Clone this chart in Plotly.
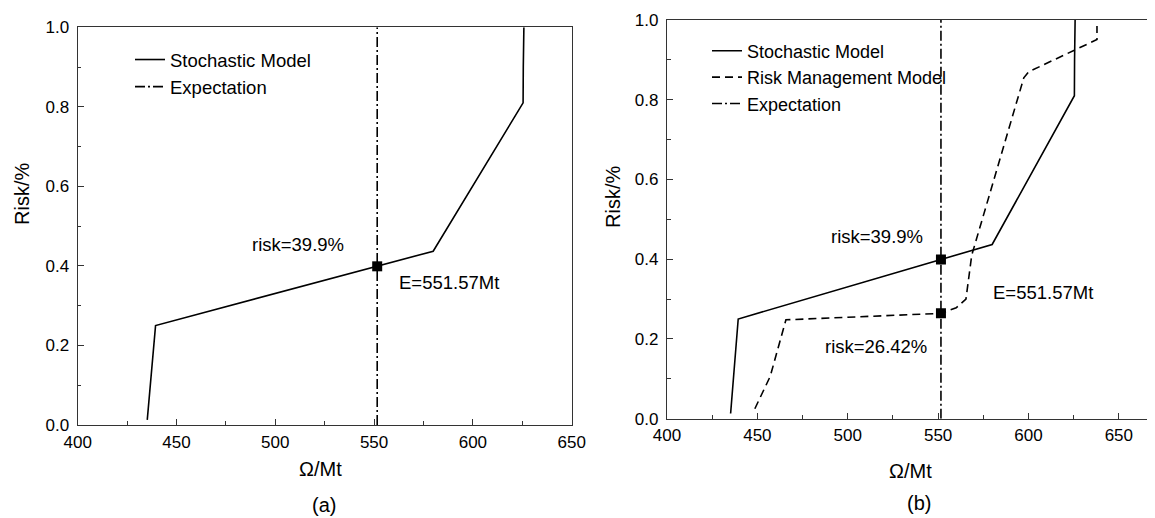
import plotly.graph_objects as go

W, H = 1155, 518
OFF = 8  # page body offset of the rendered figure, in px

# ---- data ----
stoch_x = [435.2, 439.4, 579.9, 625.4, 625.5, 625.8]
stoch_y = [0.013, 0.25, 0.437, 0.81, 0.90, 1.0]

rmm_x = [448.6, 457.1, 465.8, 551.57, 560.0, 565.4, 568.6, 597.4, 600.1, 637.9, 637.9]
rmm_y = [0.025, 0.106, 0.248, 0.2642, 0.278, 0.30, 0.41, 0.855, 0.87, 0.951, 0.985]

E_value = 551.57
exp_y = [0.0, 1.0]
risk_stoch = 0.399
risk_rmm = 0.2642

FONT = "Arial, Liberation Sans, sans-serif"


def fx(px):
    return (px - OFF) / W


def fy(py):
    return 1 - (py - OFF) / H


fig = go.Figure()

line_w = 1.6
dash_rmm = "8px,5px"
dash_exp = "10px,3px,2px,3px"

# panel (a)
fig.add_trace(go.Scatter(x=stoch_x, y=stoch_y, mode="lines", name="Stochastic Model",
                         line=dict(color="black", width=line_w), xaxis="x", yaxis="y",
                         legend="legend"))
fig.add_trace(go.Scatter(x=[E_value, E_value], y=exp_y, mode="lines", name="Expectation",
                         line=dict(color="black", width=line_w, dash=dash_exp), xaxis="x", yaxis="y",
                         legend="legend"))
fig.add_trace(go.Scatter(x=[E_value], y=[risk_stoch], mode="markers", showlegend=False,
                         marker=dict(symbol="square", size=10, color="black"), xaxis="x", yaxis="y"))

# panel (b)
fig.add_trace(go.Scatter(x=stoch_x, y=stoch_y, mode="lines", name="Stochastic Model",
                         line=dict(color="black", width=line_w), xaxis="x2", yaxis="y2",
                         legend="legend2"))
fig.add_trace(go.Scatter(x=rmm_x, y=rmm_y, mode="lines", name="Risk Management Model",
                         line=dict(color="black", width=line_w, dash=dash_rmm), xaxis="x2", yaxis="y2",
                         legend="legend2"))
fig.add_trace(go.Scatter(x=[E_value, E_value], y=exp_y, mode="lines", name="Expectation",
                         line=dict(color="black", width=line_w, dash=dash_exp), xaxis="x2", yaxis="y2",
                         legend="legend2"))
fig.add_trace(go.Scatter(x=[E_value, E_value], y=[risk_stoch, risk_rmm], mode="markers", showlegend=False,
                         marker=dict(symbol="square", size=10, color="black"), xaxis="x2", yaxis="y2"))

axis_common = dict(
    showgrid=False, zeroline=False, showline=True, linecolor="#333", linewidth=1.3,
    ticks="inside", ticklen=6, tickwidth=1.3, tickcolor="#333", automargin=False,
    tickfont=dict(family=FONT, size=17, color="black"),
)
minor_x = dict(dtick=25, ticks="inside", ticklen=3.5, tickwidth=1.3, tickcolor="#333")
minor_y = dict(dtick=0.1, ticks="inside", ticklen=3.5, tickwidth=1.3, tickcolor="#333")

fig.update_layout(
    template="none",
    width=W, height=H,
    margin=dict(l=0, r=0, t=0, b=0, pad=0, autoexpand=False),
    paper_bgcolor="white", plot_bgcolor="white",
    font=dict(family=FONT, color="black"),
    xaxis=dict(domain=[fx(77.7), fx(571.7)], range=[400, 650], dtick=50, tick0=400,
               mirror=True, minor=minor_x, ticklabelstandoff=1, anchor="y", **axis_common),
    yaxis=dict(domain=[fy(425), fy(27.3)], range=[0, 1], dtick=0.2, tick0=0, tickformat=".1f",
               mirror=True, minor=minor_y, ticklabelstandoff=4, anchor="x", **axis_common),
    xaxis2=dict(domain=[fx(667), fx(1155)], range=[400, 670], dtick=50, tick0=400,
                mirror=True, minor=minor_x, ticklabelstandoff=1, anchor="y2", **axis_common),
    yaxis2=dict(domain=[fy(418.7), fy(20)], range=[0, 1], dtick=0.2, tick0=0, tickformat=".1f",
                mirror=False, minor=minor_y, ticklabelstandoff=4, anchor="x2", **axis_common),
    legend=dict(x=fx(130), y=fy(41), xanchor="left", yanchor="top", bgcolor="rgba(0,0,0,0)",
                font=dict(family=FONT, size=18.5, color="black"), tracegroupgap=0, itemwidth=30),
    legend2=dict(x=fx(707), y=fy(32.5), xanchor="left", yanchor="top", bgcolor="rgba(0,0,0,0)",
                 font=dict(family=FONT, size=18, color="black"), tracegroupgap=0, itemwidth=30),
    showlegend=True,
)

ann_font = dict(family=FONT, size=18.5, color="black")
title_font = dict(family=FONT, size=20, color="black")
C = dict(xanchor="center", yanchor="middle", showarrow=False)

annotations = [
    # panel (a) text
    dict(x=511.4, y=0.455, xref="x", yref="y", text="risk=39.9%", font=ann_font, **C),
    dict(x=587.8, y=0.358, xref="x", yref="y", text="E=551.57Mt", font=ann_font, **C),
    # panel (b) text
    dict(x=516.4, y=0.457, xref="x2", yref="y2", text="risk=39.9%", font=ann_font, **C),
    dict(x=515.4, y=0.18, xref="x2", yref="y2", text="risk=26.42%", font=ann_font, **C),
    dict(x=607.9, y=0.317, xref="x2", yref="y2", text="E=551.57Mt", font=ann_font, **C),
    # axis titles
    dict(x=fx(320), y=fy(469), xref="paper", yref="paper", text="Ω/Mt", font=title_font, **C),
    dict(x=fx(910), y=fy(471), xref="paper", yref="paper", text="Ω/Mt", font=title_font, **C),
    dict(x=fx(22), y=fy(194), xref="paper", yref="paper", text="Risk/%", textangle=-90,
         font=title_font, **C),
    dict(x=fx(613), y=fy(197), xref="paper", yref="paper", text="Risk/%", textangle=-90,
         font=title_font, **C),
    # panel labels
    dict(x=fx(324), y=fy(505), xref="paper", yref="paper", text="(a)", font=title_font, **C),
    dict(x=fx(919), y=fy(503), xref="paper", yref="paper", text="(b)", font=title_font, **C),
]
fig.update_layout(annotations=annotations)

fig.write_html("out.html")
